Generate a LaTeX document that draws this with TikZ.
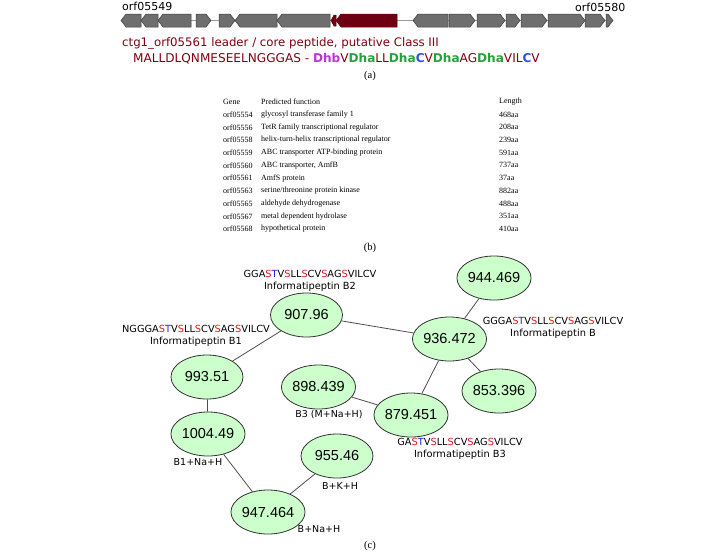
\documentclass[tikz,border=0pt]{standalone}
\usepackage{fontspec}
\setmainfont{Liberation Serif}
\newfontfamily\dejavu{DejaVu Sans}
\newfontfamily\libsans{Liberation Sans}
\usetikzlibrary{shapes.geometric}
\definecolor{genegrey}{RGB}{110,110,110}
\definecolor{genedark}{RGB}{60,60,60}
\definecolor{corered}{RGB}{110,0,18}
\definecolor{leadred}{RGB}{128,0,16}
\definecolor{dhbpurple}{RGB}{190,50,220}
\definecolor{dhagreen}{RGB}{40,160,60}
\definecolor{cysblue}{RGB}{50,80,225}
\definecolor{massgreen}{RGB}{204,255,204}
\definecolor{infored}{RGB}{235,20,20}
\definecolor{infoblue}{RGB}{30,30,230}
\newcommand\serR{\textcolor{infored}{S}}
\newcommand\thrB{\textcolor{infoblue}{T}}
\newcommand\dhb{\textbf{\textcolor{dhbpurple}{Dhb}}}
\newcommand\dha{\textbf{\textcolor{dhagreen}{Dha}}}
\newcommand\cysC{\textbf{\textcolor{cysblue}{C}}}

\begin{document}
\begin{tikzpicture}[
    x=1pt, y=-1pt,
    txt/.style={inner sep=0pt},
    massnode/.style={ellipse, draw=black!80, line width=0.8pt, fill=massgreen,
        minimum width=72pt, minimum height=44pt, inner sep=0pt,
        font=\libsans\fontsize{14.5}{16}\selectfont},
    seqlabel/.style={inner sep=0pt, align=center,
        font=\dejavu\fontsize{9.8}{12}\selectfont},
    adductlabel/.style={inner sep=0pt, font=\dejavu\fontsize{9.5}{11}\selectfont},
    link/.style={draw=black!70, line width=0.8pt},
    panel/.style={inner sep=0pt, font=\fontsize{10.5}{12}\selectfont}
]
\useasboundingbox (0,0) rectangle (713,558);

% (a) gene cluster
\draw[black!40, line width=0.8pt] (121,20.5) -- (612,20.5);
\foreach \xa/\xb in {121/141, 141/158, 158/191, 235/277, 277/330, 413/448}
    \filldraw[fill=genegrey, draw=genedark, line width=0.5pt]
        (\xa,20.5) -- ({\xa+5},14) -- (\xb,14) -- (\xb,27) -- ({\xa+5},27) -- cycle;
\foreach \xa/\xb in {196/211, 219/235, 449/475, 477/505, 506/520, 521/547, 548/585, 585/605, 606/613}
    \filldraw[fill=genegrey, draw=genedark, line width=0.5pt]
        (\xa,14) -- ({\xb-5},14) -- (\xb,20.5) -- ({\xb-5},27) -- (\xa,27) -- cycle;
\filldraw[fill=corered, draw=corered!80!black, line width=0.5pt]
    (331,20.5) -- (334,15) -- (336,15) -- (336,26) -- (334,26) -- cycle;
\filldraw[fill=corered, draw=corered!80!black, line width=0.5pt]
    (336,20.5) -- (341,14) -- (397,14) -- (397,27) -- (341,27) -- cycle;

\node[txt, anchor=west, font=\dejavu\fontsize{11}{12}\selectfont] (orfleft) at (122,6) {orf05549};
\node[txt, anchor=west, font=\dejavu\fontsize{11}{12}\selectfont] (orfright) at (575,7) {orf05580};

\node[txt, anchor=west, text=leadred, font=\dejavu\fontsize{11.75}{13}\selectfont] (title) at (122,43)
    {ctg1\_orf05561 leader / core peptide, putative Class III};
\node[txt, anchor=west, text=leadred, font=\dejavu\fontsize{12.1}{13}\selectfont] (peptide) at (133,59)
    {MALLDLQNMESEELNGGGAS - \dhb V\dha LL\dha\cysC V\dha AG\dha VIL\cysC V};
\node[panel] (pa) at (370,76) {(a)};

% (b) gene table
\node[txt, anchor=west, font=\fontsize{8}{9}\selectfont] (hgene) at (223,102) {Gene};
\node[txt, anchor=west, font=\fontsize{8}{9}\selectfont] (hfunc) at (261,102) {Predicted function};
\node[txt, anchor=west, font=\fontsize{8}{9}\selectfont] (hlen) at (499,102) {Length};
\foreach \gene/\func/\len [count=\i from 0] in {
    orf05554/glycosyl transferase family 1/468aa,
    orf05556/TetR family transcriptional regulator/208aa,
    orf05558/helix-turn-helix transcriptional regulator/239aa,
    orf05559/ABC transporter ATP-binding protein/591aa,
    orf05560/{ABC transporter, AmfB}/737aa,
    orf05561/AmfS protein/37aa,
    orf05563/{serine/threonine protein kinase}/882aa,
    orf05565/aldehyde dehydrogenase/488aa,
    orf05567/metal dependent hydrolase/351aa,
    orf05568/hypothetical protein/410aa}
{
    \node[txt, anchor=west, font=\fontsize{8}{9}\selectfont] (g\i) at (223,{114.5+12.72*\i}) {\gene};
    \node[txt, anchor=west, font=\fontsize{8}{9}\selectfont] (f\i) at (261,{114.5+12.72*\i}) {\func};
    \node[txt, anchor=west, font=\fontsize{8}{9}\selectfont] (l\i) at (499,{114.5+12.72*\i}) {\len};
}
\node[panel] (pb) at (370,248) {(b)};

% (c) molecular network
\node[massnode] (m907) at (306.5,315) {907.96};
\node[massnode] (m993) at (207,377) {993.51};
\node[massnode] (m898) at (318.5,387) {898.439};
\node[massnode] (m944) at (494,278) {944.469};
\node[massnode] (m936) at (449.5,339) {936.472};
\node[massnode] (m853) at (499,391) {853.396};
\node[massnode] (m879) at (411,415) {879.451};
\node[massnode] (m1004) at (208,434) {1004.49};
\node[massnode] (m955) at (337,456) {955.46};
\node[massnode] (m947) at (268,512) {947.464};

\draw[link] (m907) -- (m993);
\draw[link] (m907) -- (m936);
\draw[link] (m936) -- (m944);
\draw[link] (m936) -- (m853);
\draw[link] (m936) -- (m879);
\draw[link] (m898) -- (m879);
\draw[link] (m993) -- (m1004);
\draw[link] (m1004) -- (m947);
\draw[link] (m955) -- (m947);

\node[seqlabel] (lb2) at (310,281) {GGA\serR\thrB V\serR LL\serR CV\serR AG\serR VILCV\\Informatipeptin B2};
\node[seqlabel] (lb1) at (196,336) {NGGGA\serR\thrB V\serR LL\serR CV\serR AG\serR VILCV\\Informatipeptin B1};
\node[seqlabel] (lb) at (553,328) {GGGA\serR\thrB V\serR LL\serR CV\serR AG\serR VILCV\\Informatipeptin B};
\node[seqlabel] (lb3) at (460,449) {GA\serR\thrB V\serR LL\serR CV\serR AG\serR VILCV\\Informatipeptin B3};
\node[adductlabel] (ab3) at (329,415) {B3 (M+Na+H)};
\node[adductlabel] (ab1) at (198,462) {B1+Na+H};
\node[adductlabel] (abk) at (340,486) {B+K+H};
\node[adductlabel] (abna) at (319,529) {B+Na+H};
\node[panel] (pc) at (370,546) {(c)};

\end{tikzpicture}
\end{document}
